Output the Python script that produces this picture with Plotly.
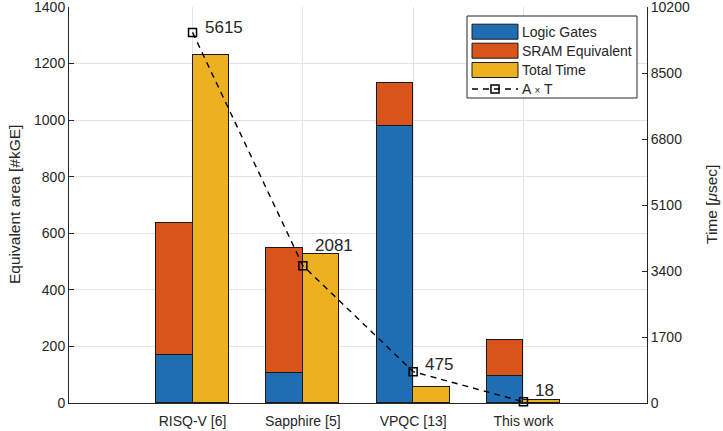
import plotly.graph_objects as go

# ---- data ----
categories = ["RISQ-V [6]", "Sapphire [5]", "VPQC [13]", "This work"]
logic_gates_kge = [171, 106, 981, 96]      # logic gate area [kGE]
sram_equiv_kge = [465, 441, 152, 127]      # SRAM equivalent area [kGE]
total_time_us = [8970, 3830, 420, 80]      # total time [usec]
area_time = [5615, 2081, 475, 18]          # A x T product
label_yshift = [5, 20, 7, 11]              # vertical nudge of the A x T labels [px]
area_ticks = [0, 200, 400, 600, 800, 1000, 1200, 1400]
time_ticks = [0, 1700, 3400, 5100, 6800, 8500, 10200]

# A x T is drawn against the time axis, scaled so 6000 spans the full 10200 axis
AT_SCALE = 10200 / 6000

BLUE = "#1F6EB4"
ORANGE = "#D9541A"
YELLOW = "#EDB120"
EDGE = "#1a1a1a"
AXIS = "#262626"
GRID = "#e3e3e3"
FONT = "Liberation Sans, Arial, sans-serif"

W, H = 723, 431
M_L, M_R, M_T, M_B = 69, 76, 7, 28
PW, PH = W - M_L - M_R, H - M_T - M_B

xs = list(range(1, len(categories) + 1))
BAR_W = 0.33

fig = go.Figure()

fig.add_trace(go.Bar(
    x=xs, y=logic_gates_kge, name="Logic Gates", width=BAR_W, offset=-BAR_W,
    marker=dict(color=BLUE, line=dict(color=EDGE, width=1)), showlegend=False))
fig.add_trace(go.Bar(
    x=xs, y=sram_equiv_kge, name="SRAM Equivalent", width=BAR_W, offset=-BAR_W,
    marker=dict(color=ORANGE, line=dict(color=EDGE, width=1)), showlegend=False))
fig.add_trace(go.Bar(
    x=xs, y=total_time_us, name="Total Time", width=BAR_W, offset=0, yaxis="y2",
    marker=dict(color=YELLOW, line=dict(color=EDGE, width=1)), showlegend=False))

at_y = [v * AT_SCALE for v in area_time]
fig.add_trace(go.Scatter(
    x=xs, y=at_y, name="A × T", yaxis="y2", mode="lines+markers",
    line=dict(color="black", width=1.4, dash="6px,5px"),
    marker=dict(symbol="square-open", size=8, color="black", line=dict(width=1.5, color="black")),
    cliponaxis=False, showlegend=False))

annotations = []
for x, y, v, dy in zip(xs, at_y, area_time, label_yshift):
    annotations.append(dict(
        x=x, y=y, xref="x", yref="y2", text=str(v), showarrow=False,
        xanchor="left", yanchor="middle", xshift=11, yshift=dy, borderpad=0,
        font=dict(family=FONT, size=17, color=AXIS)))

# axis titles
annotations.append(dict(
    x=0, y=0.5, xref="paper", yref="paper", text="Equivalent area [#kGE]",
    textangle=-90, showarrow=False, xshift=-55, xanchor="center", yanchor="middle",
    font=dict(family=FONT, size=15.5, color=AXIS)))
annotations.append(dict(
    x=1, y=0.5, xref="paper", yref="paper", text="Time [<i>μ</i>sec]",
    textangle=-90, showarrow=False, xshift=64, xanchor="center", yanchor="middle",
    font=dict(family=FONT, size=15.5, color=AXIS)))


def px(xp):
    return (xp - M_L) / PW


def py(yp):
    return (H - M_B - yp) / PH


# legend box drawn by hand
shapes = [dict(type="rect", xref="paper", yref="paper",
               x0=px(467), x1=px(637), y0=py(98), y1=py(16),
               fillcolor="white", line=dict(color=AXIS, width=1), layer="above")]
legend_rows = [("Logic Gates", BLUE), ("SRAM Equivalent", ORANGE), ("Total Time", YELLOW)]
row_y = [31.7, 50.7, 70.0, 89.0]
for (name, col), yc in zip(legend_rows, row_y):
    shapes.append(dict(type="rect", xref="paper", yref="paper",
                       x0=px(472), x1=px(518), y0=py(yc + 7.5), y1=py(yc - 7.5),
                       fillcolor=col, line=dict(color=EDGE, width=1), layer="above"))
    annotations.append(dict(x=px(521), y=py(yc), xref="paper", yref="paper", text=name,
                            showarrow=False, xanchor="left", yanchor="middle", borderpad=0,
                            font=dict(family=FONT, size=14, color=AXIS)))
yc = row_y[3]
shapes.append(dict(type="line", xref="paper", yref="paper",
                   x0=px(472), x1=px(518), y0=py(yc), y1=py(yc),
                   line=dict(color="black", width=1.4, dash="6px,5px"), layer="above"))
shapes.append(dict(type="rect", xref="paper", yref="paper",
                   x0=px(491), x1=px(499), y0=py(yc + 4), y1=py(yc - 4),
                   line=dict(color="black", width=1.5), layer="above"))
annotations.append(dict(x=px(521), y=py(yc), xref="paper", yref="paper",
                        text="A <span style='font-size:10px'>×</span> T",
                        showarrow=False, xanchor="left", yanchor="middle", borderpad=0,
                        font=dict(family=FONT, size=14, color=AXIS)))

fig.update_layout(
    width=W, height=H, margin=dict(l=M_L, r=M_R, t=M_T, b=M_B, autoexpand=False),
    paper_bgcolor="white", plot_bgcolor="white",
    barmode="stack", bargap=0,
    font=dict(family=FONT, size=14, color=AXIS),
    xaxis=dict(range=[-0.12, 5.12], tickvals=xs, ticktext=categories, automargin=False,
               showgrid=True, gridcolor=GRID, gridwidth=1, zeroline=False,
               showline=True, linecolor=AXIS, linewidth=1, ticks="",
               ticklabelstandoff=5, ticklabeloverflow="allow",
               tickfont=dict(size=14)),
    yaxis=dict(range=[0, 1400], tickvals=area_ticks, ticktext=[str(t) for t in area_ticks],
               showgrid=True, gridcolor=GRID, gridwidth=1, ticklabeloverflow="allow",
               automargin=False,
               zeroline=False, showline=True, linecolor=AXIS, linewidth=1,
               ticks="inside", ticklen=5, tickcolor=AXIS, tickfont=dict(size=14)),
    yaxis2=dict(range=[0, 10200], tickvals=time_ticks, ticktext=[str(t) for t in time_ticks],
                overlaying="y", side="right", ticklabeloverflow="allow", automargin=False,
                showgrid=False, zeroline=False, showline=True, linecolor=AXIS, linewidth=1,
                ticks="inside", ticklen=5, tickcolor=AXIS, tickfont=dict(size=14)),
    annotations=annotations, shapes=shapes,
)

fig.write_html("out.html")
